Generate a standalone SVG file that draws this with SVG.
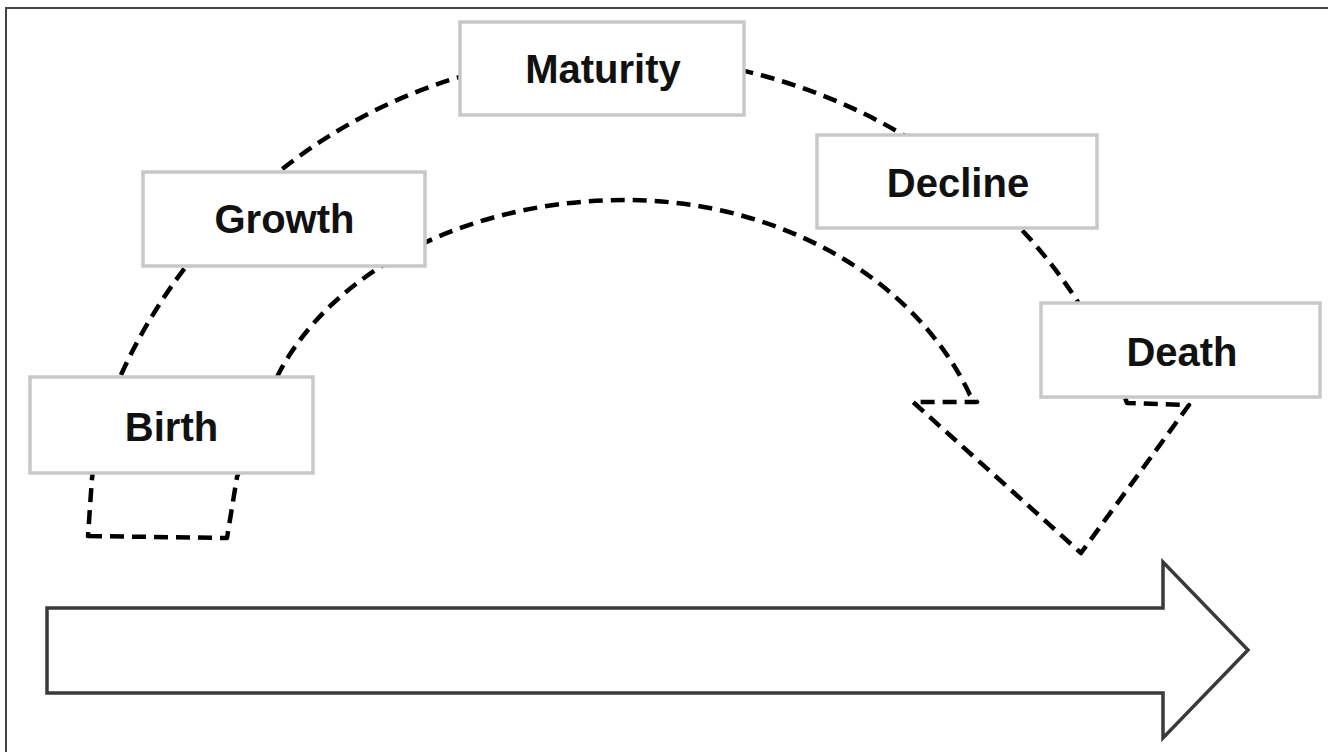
<svg xmlns="http://www.w3.org/2000/svg" width="1328" height="752" viewBox="0 0 1328 752">
  <style>
    .frame { fill: none; stroke: #444; stroke-width: 2; }
    .box { fill: #fff; stroke: #c8c8c8; stroke-width: 3.5; }
    .label { font-family: "Liberation Sans", Arial, sans-serif; font-weight: bold; font-size: 40px; fill: #111; text-anchor: middle; }
    .cycle { fill: none; stroke: #000; stroke-width: 4.5; stroke-dasharray: 14 8; stroke-linejoin: round; }
    .time { fill: #fff; stroke: #3a3a3a; stroke-width: 3.5; stroke-linejoin: miter; }
  </style>
  <rect width="1328" height="752" fill="#fff"/>
  <path class="frame" d="M 6,752 L 6,8 L 1328,8"/>

  <!-- lifecycle loop: dashed curved arrow behind the stage boxes -->
  <g id="connectors">
    <path class="cycle" d="M 88,536 L 227,538 L 237,477 L 278,375 A 370 268 0 0 1 625,200 A 370 306 0 0 1 970,395 L 977,402 L 913,402 L 1081,553 L 1189,405 L 1127,403 A 545 500 0 0 0 610,55 A 540 555 0 0 0 100,428 L 92,478 Z"/>
    <!-- time axis -->
    <path class="time" d="M 47,608 L 1163,608 L 1163,562 L 1248,650 L 1163,738 L 1163,693 L 47,693 Z"/>
  </g>

  <g id="birth">
    <rect class="box" x="30" y="377" width="283" height="96"/>
    <text class="label" x="171.5" y="441">Birth</text>
  </g>
  <g id="growth">
    <rect class="box" x="143" y="172" width="282" height="94"/>
    <text class="label" x="284.5" y="233">Growth</text>
  </g>
  <g id="maturity">
    <rect class="box" x="460" y="22" width="284" height="93"/>
    <text class="label" x="603" y="83">Maturity</text>
  </g>
  <g id="decline">
    <rect class="box" x="817" y="135" width="280" height="93"/>
    <text class="label" x="958" y="197">Decline</text>
  </g>
  <g id="death">
    <rect class="box" x="1041" y="303" width="279" height="94"/>
    <text class="label" x="1182" y="366">Death</text>
  </g>
</svg>
